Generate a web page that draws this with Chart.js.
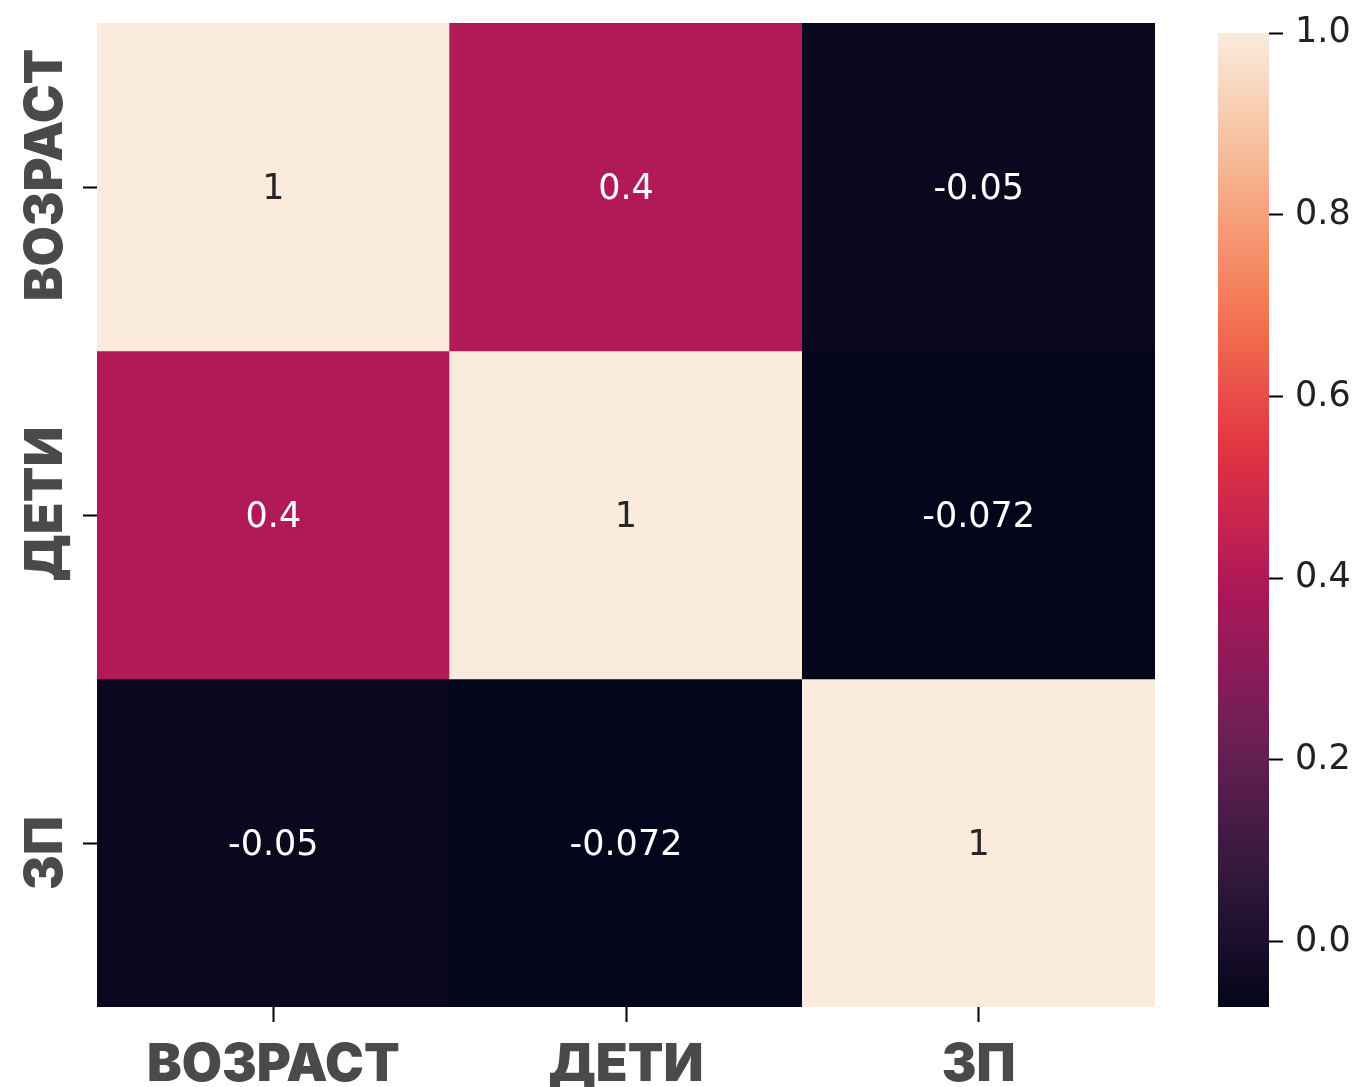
<!DOCTYPE html>
<html>
<head>
<meta charset="utf-8">
<script src="https://cdn.jsdelivr.net/npm/chart.js@4/dist/chart.umd.min.js"></script>
<style>
  html, body { margin: 0; padding: 0; background: #ffffff; }
  #wrap { position: relative; width: 1361px; height: 1087px; overflow: hidden; }
  #heat { position: absolute; left: 0; top: 0; }
  #cbar { position: absolute; left: 1190px; top: 0; }
</style>
</head>
<body>
<div id="wrap">
  <canvas id="heat" width="1190" height="1087"></canvas>
  <canvas id="cbar" width="171" height="1087"></canvas>
</div>
<script>
// ---- data ----
const columnLabels = ['ВОЗРАСТ', 'ДЕТИ', 'ЗП'];
const rowLabels = ['ВОЗРАСТ', 'ДЕТИ', 'ЗП'];
const rowВОЗРАСТ = [1, 0.4, -0.05];
const rowДЕТИ = [0.4, 1, -0.072];
const rowЗП = [-0.05, -0.072, 1];
const matrixRows = [rowВОЗРАСТ, rowДЕТИ, rowЗП];
const colorbarTicks = [0.0, 0.2, 0.4, 0.6, 0.8, 1.0];

// ---- style ----
const labelFont = '900 52px Inter';
const labelColor = '#4a4a4a';
const numberFont = '35px "DejaVu Sans"';
const yLabelNudge = [-12, -11, 10];

const allValues = matrixRows.flat();
const vmin = Math.min(...allValues);
const vmax = Math.max(...allValues);

// rocket colormap stops
const rocketStops = [
  [0 / 7, [3, 5, 26]],
  [1 / 7, [53, 25, 62]],
  [2 / 7, [112, 31, 87]],
  [3 / 7, [173, 23, 89]],
  [4 / 7, [225, 51, 66]],
  [5 / 7, [243, 118, 81]],
  [6 / 7, [246, 180, 143]],
  [7 / 7, [250, 235, 221]]
];
function rocketRGB(t) {
  t = Math.max(0, Math.min(1, t));
  for (let i = 1; i < rocketStops.length; i++) {
    const [p1, c1] = rocketStops[i];
    const [p0, c0] = rocketStops[i - 1];
    if (t <= p1) {
      const f = (t - p0) / (p1 - p0);
      return c0.map((c, k) => Math.round(c + (c1[k] - c) * f));
    }
  }
  return rocketStops[rocketStops.length - 1][1];
}
function colorFor(v) {
  const rgb = rocketRGB((v - vmin) / (vmax - vmin));
  return `rgb(${rgb[0]},${rgb[1]},${rgb[2]})`;
}
function luminance(v) {
  const rgb = rocketRGB((v - vmin) / (vmax - vmin)).map(c => {
    c /= 255;
    return c <= 0.03928 ? c / 12.92 : Math.pow((c + 0.055) / 1.055, 2.4);
  });
  return 0.2126 * rgb[0] + 0.7152 * rgb[1] + 0.0722 * rgb[2];
}
function fmt(v) { return String(Number(v.toPrecision(2))); }

const datasets = matrixRows.map((row, i) => ({
  label: rowLabels[i],
  data: row.map(() => [i, i + 1]),
  values: row,
  backgroundColor: row.map(colorFor),
  borderWidth: 0,
  barPercentage: 1,
  categoryPercentage: 1,
  grouped: false
}));

const annotatePlugin = {
  id: 'annotate',
  afterDatasetsDraw(chart) {
    const ctx = chart.ctx;
    ctx.save();
    ctx.font = numberFont;
    ctx.textAlign = 'center';
    ctx.textBaseline = 'middle';
    chart.data.datasets.forEach((ds, i) => {
      chart.getDatasetMeta(i).data.forEach((el, j) => {
        const v = ds.values[j];
        ctx.fillStyle = luminance(v) > 0.408 ? '#262626' : '#ffffff';
        ctx.fillText(fmt(v), el.x, (el.y + el.base) / 2 + 3);
      });
    });
    ctx.restore();
  },
  afterDraw(chart) {
    const ctx = chart.ctx;
    const {x, y} = chart.scales;
    ctx.save();
    ctx.font = labelFont;
    ctx.fillStyle = labelColor;
    ctx.textAlign = 'center';
    ctx.textBaseline = 'alphabetic';
    columnLabels.forEach((lab, j) => {
      ctx.fillText(lab, x.getPixelForValue(j), chart.chartArea.bottom + 74);
    });
    rowLabels.forEach((lab, i) => {
      ctx.save();
      ctx.translate(62, y.getPixelForValue(i + 0.5) + yLabelNudge[i]);
      ctx.rotate(-Math.PI / 2);
      ctx.fillText(lab, 0, 0);
      ctx.restore();
    });
    ctx.restore();
  }
};

new Chart(document.getElementById('heat'), {
  type: 'bar',
  data: { labels: columnLabels, datasets },
  options: {
    responsive: false,
    animation: false,
    layout: { padding: { left: 0, top: 23, right: 35, bottom: 0 } },
    plugins: { legend: { display: false }, tooltip: { enabled: false } },
    scales: {
      x: {
        type: 'category',
        offset: true,
        ticks: { display: false },
        grid: { display: true, drawOnChartArea: false, drawTicks: true, tickLength: 15, tickWidth: 2, tickColor: '#000', offset: false },
        border: { display: false },
        afterFit(s) { s.height = 80; }
      },
      y: {
        type: 'linear',
        min: 0,
        max: rowLabels.length,
        reverse: true,
        ticks: { display: false },
        afterBuildTicks(s) { s.ticks = rowLabels.map((_, i) => ({ value: i + 0.5 })); },
        grid: { display: true, drawOnChartArea: false, drawTicks: true, tickLength: 14, tickWidth: 2, tickColor: '#000' },
        border: { display: false },
        afterFit(s) { s.width = 97; }
      }
    }
  },
  plugins: [annotatePlugin]
});

// ---- colorbar ----
new Chart(document.getElementById('cbar'), {
  type: 'bar',
  data: {
    labels: [''],
    datasets: [{
      data: [[vmin, vmax]],
      backgroundColor(c) {
        const ch = c.chart;
        if (!ch.chartArea) return null;
        const ys = ch.scales.y;
        const y0 = ys.getPixelForValue(vmin), y1 = ys.getPixelForValue(vmax);
        const g = ch.ctx.createLinearGradient(0, y0, 0, y1);
        for (let k = 0; k <= 40; k++) {
          const t = k / 40;
          const rgb = rocketRGB(t);
          g.addColorStop(t, `rgb(${rgb[0]},${rgb[1]},${rgb[2]})`);
        }
        return g;
      },
      borderWidth: 0,
      barPercentage: 1,
      categoryPercentage: 1
    }]
  },
  options: {
    responsive: false,
    animation: false,
    layout: { padding: { left: 28, top: 23, right: 0, bottom: 80 } },
    plugins: { legend: { display: false }, tooltip: { enabled: false } },
    scales: {
      x: { display: false },
      y: {
        position: 'right',
        min: vmin,
        max: vmax,
        afterBuildTicks(s) { s.ticks = colorbarTicks.map(v => ({ value: v })); },
        ticks: {
          font: { family: 'DejaVu Sans', size: 35 },
          color: '#222222',
          padding: 12,
          callback: v => Number(v).toFixed(1)
        },
        grid: { display: true, drawOnChartArea: false, drawTicks: true, tickLength: 14, tickWidth: 2, tickColor: '#000' },
        border: { display: false },
        afterFit(s) { s.width = 92; }
      }
    }
  }
});
</script>
</body>
</html>
